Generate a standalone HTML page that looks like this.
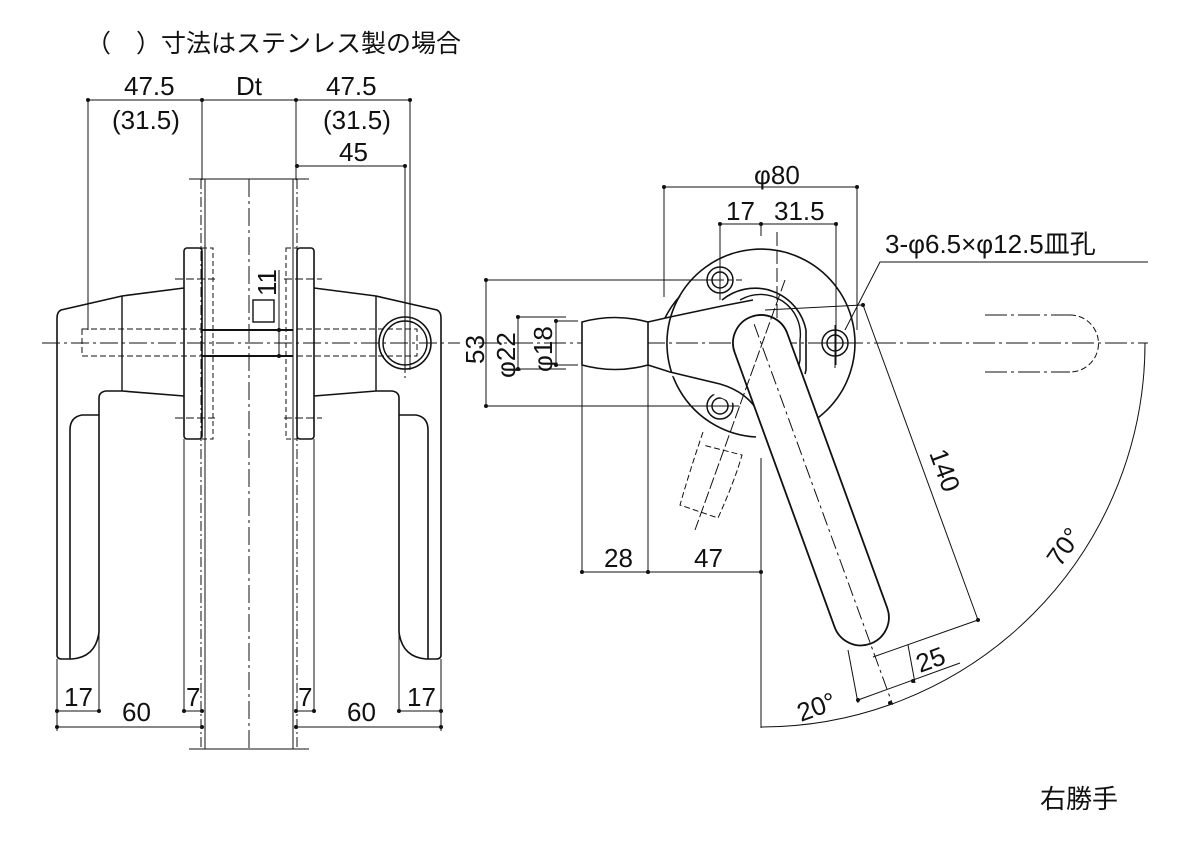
<!DOCTYPE html>
<html><head><meta charset="utf-8"><style>
html,body{margin:0;padding:0;background:#fff;}
svg{display:block;}
text{font-family:"Liberation Sans","Noto Sans CJK JP",sans-serif;fill:#111;}
</style></head><body>
<svg width="1181" height="845" viewBox="0 0 1181 845" xmlns="http://www.w3.org/2000/svg">
<text x="86" y="52" font-size="25" style="font-family:'Noto Sans CJK JP',sans-serif">（　）寸法はステンレス製の場合</text>

<!-- ===== LEFT VIEW ===== -->
<g fill="none" stroke="#111" stroke-width="1">
 <line x1="88" y1="100" x2="410" y2="100"/>
 <line x1="88" y1="100" x2="88" y2="330"/>
 <line x1="202" y1="100" x2="202" y2="180"/>
 <line x1="296" y1="100" x2="296" y2="180"/>
 <line x1="410" y1="100" x2="410" y2="370"/>
 <line x1="297" y1="166" x2="405" y2="166"/>
 <line x1="405" y1="166" x2="405" y2="370"/>
 <line x1="189" y1="179" x2="309" y2="179"/>
 <line x1="189" y1="749" x2="309" y2="749"/>
 <line x1="205" y1="179" x2="205" y2="749"/>
 <line x1="293" y1="179" x2="293" y2="749"/>
 <line x1="201" y1="179" x2="201" y2="749" stroke-dasharray="10,3,2,3"/>
 <line x1="297" y1="179" x2="297" y2="749" stroke-dasharray="10,3,2,3"/>
 <line x1="249" y1="179" x2="249" y2="749" stroke-dasharray="18,4,3,4"/>
 <line x1="42" y1="343" x2="460" y2="343" stroke-dasharray="18,4,3,4"/>
 <rect x="184" y="248" width="18" height="191" rx="3" stroke-width="1.6"/>
 <rect x="202" y="248" width="11" height="191" stroke-dasharray="5,3"/>
 <rect x="297" y="248" width="17" height="191" rx="3" stroke-width="1.6"/>
 <rect x="286" y="248" width="11" height="191" stroke-dasharray="5,3"/>
 <line x1="175" y1="279" x2="215" y2="279" stroke-dasharray="8,3"/>
 <line x1="175" y1="418" x2="215" y2="418" stroke-dasharray="8,3"/>
 <line x1="284" y1="279" x2="322" y2="279" stroke-dasharray="8,3"/>
 <line x1="284" y1="418" x2="322" y2="418" stroke-dasharray="8,3"/>
 <rect x="82" y="329" width="120" height="27" stroke-dasharray="6,3"/>
 <rect x="297" y="329" width="120" height="27" stroke-dasharray="6,3"/>
 <line x1="202" y1="330" x2="293" y2="330" stroke-width="2"/>
 <line x1="202" y1="356" x2="293" y2="356" stroke-width="2"/>
 <rect x="253" y="300" width="21" height="22" stroke-width="1.4"/>
 <line x1="279" y1="270" x2="279" y2="357"/>
 <path stroke-width="1.6" d="M184,288 L122,296 L61,310 Q57,312 57,318 L57,655 Q57,659 62,659 L72,659 Q96,657 99,632 L99,398 Q99,392 106,391 L122,391 L184,396"/>
 <line x1="122" y1="296" x2="122" y2="391" stroke-width="1.4"/>
 <path stroke-width="1.6" d="M99,415 L82,415 Q70,417 70,430 L70,659"/>
 <g transform="translate(498,0) scale(-1,1)">
 <path stroke-width="1.6" d="M184,288 L122,296 L61,310 Q57,312 57,318 L57,655 Q57,659 62,659 L72,659 Q96,657 99,632 L99,398 Q99,392 106,391 L122,391 L184,396"/>
 <line x1="122" y1="296" x2="122" y2="391" stroke-width="1.4"/>
 <path stroke-width="1.6" d="M99,415 L82,415 Q70,417 70,430 L70,659"/>
 </g>
 <circle cx="405" cy="343" r="26" stroke-width="1.6"/>
 <circle cx="405" cy="343" r="22" stroke-width="1.4"/>
 <line x1="405" y1="310" x2="405" y2="378" stroke-dasharray="8,3"/>
 <line x1="57" y1="659" x2="57" y2="731"/>
 <line x1="99" y1="632" x2="99" y2="713"/>
 <line x1="184" y1="439" x2="184" y2="713"/>
 <line x1="314" y1="439" x2="314" y2="713"/>
 <line x1="399" y1="632" x2="399" y2="713"/>
 <line x1="441" y1="659" x2="441" y2="731"/>
 <line x1="57" y1="711" x2="99" y2="711"/>
 <line x1="184" y1="711" x2="202" y2="711"/>
 <line x1="296" y1="711" x2="314" y2="711"/>
 <line x1="399" y1="711" x2="441" y2="711"/>
 <line x1="57" y1="727" x2="202" y2="727"/>
 <line x1="296" y1="727" x2="441" y2="727"/>
</g>
<g fill="#111">
 <circle cx="88" cy="100" r="2"/><circle cx="202" cy="100" r="2"/><circle cx="296" cy="100" r="2"/><circle cx="410" cy="100" r="2"/>
 <circle cx="297" cy="166" r="2"/><circle cx="405" cy="166" r="2"/>
 <circle cx="279" cy="330" r="2"/><circle cx="279" cy="356" r="2"/>
 <circle cx="57" cy="711" r="2"/><circle cx="99" cy="711" r="2"/><circle cx="184" cy="711" r="2"/><circle cx="202" cy="711" r="2"/>
 <circle cx="296" cy="711" r="2"/><circle cx="314" cy="711" r="2"/><circle cx="399" cy="711" r="2"/><circle cx="441" cy="711" r="2"/>
 <circle cx="57" cy="727" r="2"/><circle cx="202" cy="727" r="2"/><circle cx="296" cy="727" r="2"/><circle cx="441" cy="727" r="2"/>
</g>
<g font-size="26">
 <text x="124" y="95">47.5</text>
 <text x="236" y="95">Dt</text>
 <text x="326" y="95">47.5</text>
 <text x="112" y="129">(31.5)</text>
 <text x="323" y="129">(31.5)</text>
 <text x="339" y="161">45</text>
 <text x="0" y="0" transform="translate(276,296) rotate(-90)">11</text>
 <text x="64" y="706">17</text>
 <text x="122" y="721">60</text>
 <text x="186" y="706">7</text>
 <text x="298" y="706">7</text>
 <text x="347" y="721">60</text>
 <text x="407" y="706">17</text>
</g>

<!-- ===== RIGHT VIEW ===== -->
<g fill="none" stroke="#111" stroke-width="1">
 <line x1="478" y1="343" x2="1148" y2="343" stroke-dasharray="22,4,3,4"/>
 <line x1="777" y1="232" x2="777" y2="458" stroke-dasharray="14,4"/>
 <line x1="664" y1="187" x2="857" y2="187"/>
 <line x1="664" y1="187" x2="664" y2="297"/>
 <line x1="857" y1="187" x2="857" y2="330"/>
 <line x1="720" y1="224" x2="836" y2="224"/>
 <line x1="720" y1="224" x2="720" y2="300"/>
 <line x1="836" y1="224" x2="836" y2="365"/>
 <line x1="761" y1="224" x2="761" y2="236"/>
 <polyline points="1148,262 880,262 845,330"/>
 <path stroke-width="1.6" d="M756,437 A94,94 0 1 1 785,434"/>
 <path stroke-width="1.6" d="M665,318 A94,94 0 0 1 680,296"/>
 <circle cx="720" cy="280" r="13" stroke-width="1.5"/><circle cx="720" cy="280" r="8" stroke-width="1.5"/>
 <circle cx="835" cy="343" r="13" stroke-width="1.5"/><circle cx="835" cy="343" r="8" stroke-width="1.5"/>
 <circle cx="720" cy="406" r="13" stroke-width="1.5"/><circle cx="720" cy="406" r="8" stroke-width="1.5"/>
 <line x1="700" y1="280" x2="745" y2="280" stroke-dasharray="6,3"/>
 <line x1="720" y1="262" x2="720" y2="300"/>
 <line x1="820" y1="343" x2="850" y2="343"/>
 <line x1="835" y1="325" x2="835" y2="368"/>
 <line x1="700" y1="406" x2="745" y2="406"/>
 <path stroke-width="1.6" d="M722,300 A52,52 0 0 1 806,330 L806,370 A52,52 0 0 1 805,374"/>
 <path stroke-width="1.4" d="M740,300 A40,40 0 0 1 800,340 L800,360 Q798,373 790,378"/>
 <path stroke-width="1.6" fill="#fff" d="M582,322 Q615,313 648,322 L648,365 Q615,374 582,365 Z"/>
 <path stroke-width="1.6" fill="#fff" d="M648,322 L670,317 L722,306 L753,300 M648,365 L670,372 L720,384 Q748,392 760,415"/>
 <g transform="translate(761,343) rotate(-20)">
  <path stroke-width="1.8" fill="#fff" d="M-28,0 A28,28 0 0 1 28,0 L28,292 A28,28 0 0 1 -28,292 Z"/>
  <line x1="0" y1="-20" x2="0" y2="385" stroke-dasharray="14,4,3,4"/>
 </g>
 <line x1="785" y1="280" x2="695" y2="530" stroke-dasharray="12,3"/>
 <path stroke-dasharray="6,3" d="M703,432 Q690,470 680,505 L718,518 Q735,480 742,455 L703,445"/>
 <line x1="765" y1="310" x2="862" y2="305"/>
 <line x1="582" y1="365" x2="582" y2="574"/>
 <line x1="648" y1="365" x2="648" y2="574"/>
 <line x1="761" y1="458" x2="761" y2="728"/>
 <line x1="582" y1="572" x2="761" y2="572"/>
 <line x1="486" y1="280" x2="720" y2="280"/>
 <line x1="486" y1="406" x2="720" y2="406"/>
 <line x1="486" y1="280" x2="486" y2="406"/>
 <line x1="518" y1="317" x2="518" y2="369"/>
 <line x1="518" y1="317" x2="566" y2="317"/>
 <line x1="518" y1="369" x2="566" y2="369"/>
 <line x1="556" y1="321" x2="556" y2="365"/>
 <line x1="556" y1="321" x2="578" y2="321"/>
 <line x1="556" y1="365" x2="578" y2="365"/>
 <line x1="863" y1="305" x2="978" y2="620"/>
 <line x1="978" y1="620" x2="873" y2="657"/>
 <!-- 25 -->
 <line x1="848" y1="650" x2="858" y2="703"/>
 <line x1="908" y1="645" x2="915" y2="683"/>
 <line x1="858" y1="700" x2="960" y2="663"/>
 <!-- arc -->
 <path d="M1145,343 A384,384 0 0 1 761,727"/>
 <path stroke-dasharray="22,4,3,4" d="M985,315 L1070,315"/>
 <path stroke-dasharray="22,4,3,4" d="M985,372 L1070,372"/>
 <path stroke-dasharray="6,3" d="M1070,315 A28,28 0 0 1 1070,372"/>
</g>
<g fill="#111">
 <circle cx="664" cy="187" r="2"/><circle cx="857" cy="187" r="2"/>
 <circle cx="720" cy="224" r="2"/><circle cx="761" cy="224" r="2"/><circle cx="836" cy="224" r="2"/>
 <circle cx="486" cy="280" r="2"/><circle cx="486" cy="406" r="2"/>
 <circle cx="518" cy="317" r="2"/><circle cx="518" cy="369" r="2"/>
 <circle cx="556" cy="321" r="2"/><circle cx="556" cy="365" r="2"/>
 <circle cx="582" cy="572" r="2"/><circle cx="648" cy="572" r="2"/><circle cx="761" cy="572" r="2"/>
 <circle cx="863" cy="305" r="2"/><circle cx="978" cy="620" r="2"/>
 <circle cx="913" cy="681" r="2"/><circle cx="858" cy="700" r="2"/><circle cx="890" cy="703" r="2"/>
</g>
<g font-size="26">
 <text x="754" y="184">φ80</text>
 <text x="726" y="220">17</text>
 <text x="774" y="220">31.5</text>
 <text x="885" y="253">3-φ6.5×φ12.5皿孔</text>
 <text x="0" y="0" transform="translate(484,364) rotate(-90)">53</text>
 <text x="0" y="0" transform="translate(515,378) rotate(-90)">φ22</text>
 <text x="0" y="0" transform="translate(552,372) rotate(-90)">φ18</text>
 <text x="604" y="567">28</text>
 <text x="694" y="567">47</text>
 <text x="0" y="0" transform="translate(929,453) rotate(70)">140</text>
 <text x="0" y="0" transform="translate(920,673) rotate(-20)">25</text>
 <text x="0" y="0" transform="translate(801,722) rotate(-20)">20°</text>
 <text x="0" y="0" transform="translate(1060,568) rotate(-55)">70°</text>
 <text x="1040" y="808">右勝手</text>
</g>
</svg>
</body></html>
